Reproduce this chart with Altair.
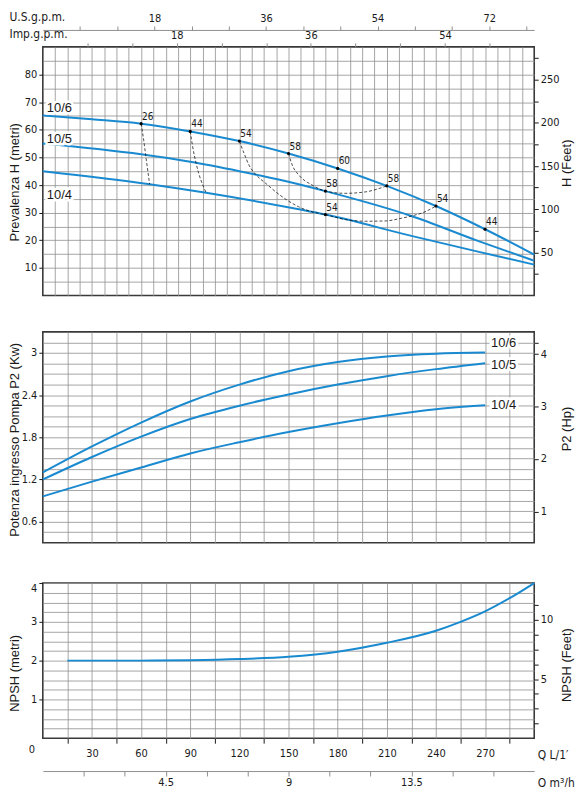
import altair as alt
import pandas as pd

# ---------------- data ----------------
SERIES = ["10/6", "10/5", "10/4"]

# Top panel: Prevalenza H (m) vs Q (L/min)
q_106 = [0, 30, 60, 90, 120, 150, 180, 210, 240, 270, 300]
h_106 = [65.2, 63.8, 62.2, 59.4, 55.9, 51.4, 46.0, 39.7, 32.4, 24.0, 14.8]
q_105 = [0, 60, 90, 120, 144, 172.5, 225, 265.6, 300]
h_105 = [55.0, 51.1, 48.4, 45.0, 42.0, 37.8, 28.8, 19.8, 12.6]
q_104 = [0, 65.2, 99.7, 156.3, 172.5, 225, 265.6, 300]
h_104 = [45.0, 40.3, 37.2, 31.2, 29.3, 21.6, 15.9, 11.2]

# iso-efficiency dashed curves
iso26_q = [60, 61.6, 63.2, 65.2]
iso26_h = [62.2, 56.2, 49.0, 40.3]
iso44_q = [90, 91.5, 93.6, 99.7]
iso44_h = [59.4, 53.8, 47.8, 37.2]
iso54_q = [120, 122.9, 125.9, 130.0, 136.1, 144.2, 156.3, 164.4, 172.5,
           184.7, 196.8, 209.0, 219.1, 225.1, 233.3, 240]
iso54_h = [55.9, 51.4, 47.2, 43.8, 40.6, 36.6, 32.1, 30.3, 29.3,
           27.5, 26.9, 27.0, 28.0, 28.8, 30.3, 32.4]
iso58_q = [150, 152.3, 156.3, 164.4, 172.5, 184.7, 196.8, 210]
iso58_h = [51.4, 47.2, 43.6, 40.0, 37.8, 37.0, 37.5, 39.7]

# efficiency points (%)
eff_q = [60, 90, 120, 150, 180, 210, 240, 270, 172.5, 172.5]
eff_h = [62.2, 59.4, 55.9, 51.4, 46.0, 39.7, 32.4, 24.0, 37.8, 29.3]
eff_t = ["26", "44", "54", "58", "60", "58", "54", "44", "58", "54"]

# Middle panel: P2 (kW) vs Q (L/min)
q_p = [0, 30, 60, 90, 120, 150, 180, 210, 240, 270]
p_106 = [1.30, 1.67, 2.01, 2.31, 2.55, 2.74, 2.87, 2.95, 2.99, 3.005]
p_105 = [1.20, 1.52, 1.81, 2.06, 2.25, 2.41, 2.55, 2.67, 2.77, 2.855]
p_104 = [0.96, 1.17, 1.37, 1.57, 1.73, 1.875, 2.00, 2.11, 2.20, 2.255]

# Bottom panel: NPSH (m) vs Q (L/min)
q_n = [15, 30, 60, 90, 120, 150, 180, 210, 240, 255, 270, 285, 300]
npsh = [2.0, 2.0, 2.0, 2.01, 2.04, 2.10, 2.23, 2.46, 2.77, 3.0, 3.27, 3.61, 4.0]

# tick labels
lab_h = [10, 20, 30, 40, 50, 60, 70, 80]
lab_ft = [50, 100, 150, 200, 250]
lab_imp = [18, 36, 54]
lab_us = [18, 36, 54, 72]
lab_kw = [0.6, 1.2, 1.8, 2.4, 3.0]
lab_hp = [1, 2, 3, 4]
lab_n = [1, 2, 3, 4]
lab_nft = [5, 10]
lab_q = [30, 60, 90, 120, 150, 180, 210, 240, 270]
lab_m3 = [4.5, 9.0, 13.5]
origin_label = ["0"]

# ---------------- styling ----------------
W, HT, HM, HB = 494, 250, 212, 156
NUM = "DejaVu Sans Condensed, Liberation Sans Narrow, DejaVu Sans, sans-serif"
TXT = "Liberation Sans, Arial, sans-serif"
BLUE = "#1a8ad0"
GRIDC = "#8f8f8f"
INK = "#1a1a1a"
RT_X = 32.5  # right-hand titles, from the right edge of the plot


def arr(vals):
    return "[" + ",".join(repr(v) for v in vals) + "]"


def label_expr(shown, fmt=None):
    lab = f"format(datum.value, '{fmt}')" if fmt else "datum.label"
    return f"indexof({arr(shown)}, datum.value) >= 0 ? {lab} : ''"


def tick_op(shown):
    return {"condition": {"test": f"indexof({arr(shown)}, datum.value) >= 0", "value": 1}, "value": 0}


def qscale():
    return alt.Scale(domain=[0, 300], nice=False, zero=False)


def grid_axis(step):
    vals = [round(step * i, 3) for i in range(1, int(round(300 / step)))]
    return alt.Axis(orient="bottom", values=vals, grid=True, gridColor=GRIDC, gridWidth=0.8,
                    labels=False, ticks=False, domain=False, title=None)


def frame(qs, vs, name, col):
    return pd.DataFrame({"Q": qs, col: vs, "s": name})


df_head = pd.concat([frame(q_106, h_106, "10/6", "H"),
                     frame(q_105, h_105, "10/5", "H"),
                     frame(q_104, h_104, "10/4", "H")], ignore_index=True)
df_iso = pd.concat([frame(iso26_q, iso26_h, "26", "H"),
                    frame(iso44_q, iso44_h, "44", "H"),
                    frame(iso54_q, iso54_h, "54", "H"),
                    frame(iso58_q, iso58_h, "58", "H")], ignore_index=True)
df_eff = pd.DataFrame({"Q": eff_q, "H": eff_h, "t": eff_t})
df_pow = pd.concat([frame(q_p, p_106, "10/6", "P"),
                    frame(q_p, p_105, "10/5", "P"),
                    frame(q_p, p_104, "10/4", "P")], ignore_index=True)
df_npsh = pd.DataFrame({"Q": q_n, "N": npsh})
df_origin = pd.DataFrame({"Q": [0], "N": [0], "t": origin_label})
df_zero = pd.DataFrame({"imp": [30], "us": [40], "ft": [150], "hp": [2], "m3": [9], "nft": [6],
                        "Q": [150]})


def carrier():
    # invisible mark that only carries an extra axis
    return alt.Chart(df_zero).mark_point(opacity=0, size=0, strokeWidth=0)


def left_axis(values, shown, title, ty, fmt=None, **extra):
    return alt.Axis(orient="left", values=values, grid=True, gridColor=GRIDC, gridWidth=0.8,
                    domain=False, tickSize=4, tickColor=INK, tickOpacity=tick_op(shown),
                    labelExpr=label_expr(shown, fmt), labelPadding=2, title=title,
                    titleAngle=270, titleX=-28, titleY=ty, titleAlign="center",
                    titleBaseline="middle", **extra)


def side_y(field, domain, values, shown, title, ty, fmt=None):
    return alt.Y(field, scale=alt.Scale(domain=domain, nice=False, zero=False),
                 axis=alt.Axis(orient="right", values=values, labelExpr=label_expr(shown, fmt),
                               grid=False, domain=False, tickSize=4, tickColor=INK,
                               labelPadding=2, title=title, titleAngle=270, titleX=RT_X,
                               titleY=ty, titleAlign="center", titleBaseline="middle"))


# ---------------- top panel ----------------
X_top = alt.X("Q:Q", scale=qscale(), axis=grid_axis(7.5))
Y_top = alt.Y("H:Q", scale=alt.Scale(domain=[0, 90], nice=False, zero=False),
              axis=left_axis([5 * i for i in range(1, 18)], lab_h, "Prevalenza H (metri)",
                             HT / 2 + 10.7))
Xt = alt.X("Q:Q", scale=qscale(), axis=None)
Yt = alt.Y("H:Q", scale=alt.Scale(domain=[0, 90], nice=False, zero=False), axis=None)

top_layers = [
    alt.Chart(df_head).mark_line(color=BLUE, strokeWidth=2, interpolate="monotone")
    .encode(x=X_top, y=Y_top, detail="s:N"),
    alt.Chart(df_iso).mark_line(color="black", strokeWidth=0.7, strokeDash=[3, 2],
                                interpolate="monotone")
    .encode(x=Xt, y=Yt, detail="s:N"),
    alt.Chart(df_eff).mark_circle(size=10, color="black", opacity=1).encode(x=Xt, y=Yt),
    alt.Chart(df_eff).mark_text(align="left", baseline="bottom", dx=1, dy=-2, fontSize=10,
                                font=NUM, color=INK).encode(x=Xt, y=Yt, text="t:N"),
]
for name, dyv in zip(SERIES, [-7, -5, 23.5]):
    base = alt.Chart(df_head).transform_filter(f"datum.s == '{name}' && datum.Q == 0")
    for halo in (True, False):
        kw = dict(stroke="white", strokeWidth=5) if halo else {}
        top_layers.append(base.mark_text(align="left", baseline="middle", dx=4, dy=dyv,
                                         fontSize=13, font=TXT, color=INK, **kw)
                          .encode(x=Xt, y=Yt, text="s:N"))

FT = alt.Scale(domain=[0, 288], nice=False, zero=False)
imp_layer = carrier().encode(
    x=alt.X("imp:Q", scale=alt.Scale(domain=[0, 300 / 4.546], nice=False, zero=False),
            axis=alt.Axis(orient="top", values=[6 * i for i in range(1, 11)],
                          labelExpr=label_expr(lab_imp), grid=False, domain=False, tickSize=4,
                          tickColor=GRIDC, labelPadding=2, title="Imp.g.p.m.", titleX=-34,
                          titleY=-6, titleAlign="left", titleBaseline="bottom", titleAngle=0,
                          titleFont=NUM, titleFontSize=12)),
    y=alt.Y("ft:Q", scale=FT, axis=None))
us_layer = carrier().encode(
    x=alt.X("us:Q", scale=alt.Scale(domain=[0, 300 / 3.785], nice=False, zero=False),
            axis=alt.Axis(orient="top", offset=17, maxExtent=10,
                          values=[6 * i for i in range(1, 14)],
                          labelExpr=label_expr(lab_us), grid=False, domain=True,
                          domainColor=GRIDC, domainWidth=1, tickSize=4, tickColor=GRIDC,
                          labelPadding=2, title="U.S.g.p.m.", titleX=-34, titleY=-6,
                          titleAlign="left", titleBaseline="bottom", titleAngle=0,
                          titleFont=NUM, titleFontSize=12)),
    y=alt.Y("ft:Q", scale=FT, axis=None))
ft_layer = carrier().encode(
    x=alt.X("imp:Q", scale=alt.Scale(domain=[0, 66], nice=False, zero=False), axis=None),
    y=side_y("ft:Q", [0, 288], [25 * i for i in range(1, 12)], lab_ft, "H (Feet)", 116.5))

top = alt.layer(*top_layers, imp_layer, us_layer, ft_layer).resolve_scale(
    x="independent", y="independent").properties(width=W, height=HT)

# ---------------- middle panel ----------------
X_mid = alt.X("Q:Q", scale=qscale(), axis=grid_axis(15))
kw_vals = [round(0.3 + 0.15 * i, 2) for i in range(1, 20)]
Y_mid = alt.Y("P:Q", scale=alt.Scale(domain=[0.3, 3.3], nice=False, zero=False),
              axis=left_axis(kw_vals, lab_kw, "Potenza ingresso Pompa P2 (Kw)", HM / 2 + 2,
                             ".1~f"))
Ym = alt.Y("P:Q", scale=alt.Scale(domain=[0.3, 3.3], nice=False, zero=False), axis=None)
mid_layers = [alt.Chart(df_pow).mark_line(color=BLUE, strokeWidth=2, interpolate="monotone")
              .encode(x=X_mid, y=Y_mid, detail="s:N")]
for name, dyv in zip(SERIES, [-10, 2, 0]):
    base = alt.Chart(df_pow).transform_filter(f"datum.s == '{name}' && datum.Q == 270")
    for halo in (True, False):
        kw = dict(stroke="white", strokeWidth=5) if halo else {}
        mid_layers.append(base.mark_text(align="left", baseline="middle", dx=6, dy=dyv,
                                         fontSize=13, font=TXT, color=INK, **kw)
                          .encode(x=X_mid, y=Ym, text="s:N"))
hp_layer = carrier().encode(
    x=X_mid,
    y=side_y("hp:Q", [0.3 / 0.7457, 3.3 / 0.7457], [1, 2, 3, 4, round(3.15 / 0.7457, 4)],
             lab_hp, "P2 (Hp)", 97.2))
mid = alt.layer(*mid_layers, hp_layer).resolve_scale(y="independent").properties(
    width=W, height=HM)

# ---------------- bottom panel ----------------
q_vals = [15 * i for i in range(1, 20)]
q_odd = [v for v in q_vals if v % 30 == 15]
X_bot = alt.X("Q:Q", scale=qscale(),
              axis=alt.Axis(orient="bottom", values=q_vals, grid=True, gridColor=GRIDC,
                            gridWidth=0.8, domain=False, tickSize=5, tickColor=INK,
                            tickOpacity=tick_op(q_odd), labelExpr=label_expr(lab_q),
                            labelPadding=4, title="Q\u00a0L/1\u2032", titleX=W + 3,
                            titleY=16, titleAlign="left", titleBaseline="middle",
                            titleAngle=0, titleFont=NUM, titleFontSize=12))
Y_bot = alt.Y("N:Q", scale=alt.Scale(domain=[0, 4], nice=False, zero=False),
              axis=left_axis([0.25 * i for i in range(1, 17)], lab_n, "NPSH (metri)", 90.3,
                             ".0f",
                             labelBaseline={"condition": {"test": "datum.value == 4",
                                                          "value": "top"},
                                            "value": "middle"}))
Xb = alt.X("Q:Q", scale=qscale(), axis=None)
Yb = alt.Y("N:Q", scale=alt.Scale(domain=[0, 4], nice=False, zero=False), axis=None)
bot_layers = [
    alt.Chart(df_npsh).mark_line(color=BLUE, strokeWidth=2, interpolate="monotone")
    .encode(x=X_bot, y=Y_bot),
    alt.Chart(df_origin).mark_text(dx=-11, dy=12, fontSize=11, font=NUM, color=INK)
    .encode(x=Xb, y=Yb, text="t:N"),
]
NFT = alt.Scale(domain=[0, 13.12], nice=False, zero=False)
m3_layer = carrier().encode(
    x=alt.X("m3:Q", scale=alt.Scale(domain=[0, 18], nice=False, zero=False),
            axis=alt.Axis(orient="bottom", offset=33, values=[1.5 * i for i in range(1, 12)],
                          labelExpr=label_expr(lab_m3, ".1~f"), grid=False, domain=True,
                          domainColor=GRIDC, domainWidth=1, tickSize=5, tickColor=GRIDC,
                          labelPadding=1, title="Q\u00a0m\u00b3/h", titleX=W + 3, titleY=12,
                          titleAlign="left", titleBaseline="middle", titleAngle=0,
                          titleFont=NUM, titleFontSize=12)),
    y=alt.Y("nft:Q", scale=NFT, axis=None))
nft_layer = carrier().encode(
    x=alt.X("m3:Q", scale=alt.Scale(domain=[0, 18], nice=False, zero=False), axis=None),
    y=side_y("nft:Q", [0, 13.12], [1.25 * i for i in range(1, 10)], lab_nft, "NPSH (Feet)",
             82, "~g"))
bot = alt.layer(*bot_layers, m3_layer, nft_layer).resolve_scale(
    x="independent", y="independent").properties(width=W, height=HB)

chart = alt.vconcat(top, mid, bot, spacing=34.5).properties(
    padding={"left": 0, "top": 0, "right": 0, "bottom": 0}
).configure_view(stroke="#3a3a3a", strokeWidth=1.6).configure_axis(
    labelFont=NUM, labelFontSize=11, labelColor=INK, titleFont=TXT, titleFontSize=13,
    titleFontWeight="normal", titleColor=INK, labelOverlap=False, labelFlush=False
)

chart.save("out.html", embed_options={"renderer": "svg", "actions": False})
